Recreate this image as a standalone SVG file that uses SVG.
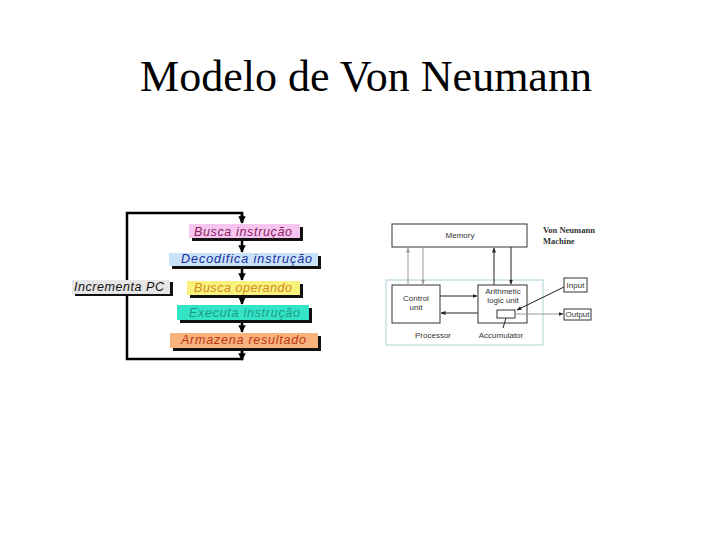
<svg xmlns="http://www.w3.org/2000/svg" width="720" height="540" viewBox="0 0 720 540">
<style>
.title{font-family:"Liberation Serif","Times New Roman",serif;font-size:44px;fill:#000}
.step{font-family:"Liberation Sans",Arial,sans-serif;font-style:italic;font-size:12.5px}
.shadow{fill:#111}
.loop{fill:none;stroke:#000;stroke-width:2.5}
.sm{font-family:"Liberation Sans",Arial,sans-serif;font-size:8px;fill:#333;text-anchor:middle}
.vn{font-family:"Liberation Serif","Times New Roman",serif;font-size:8.5px;font-weight:bold;fill:#333}
.box{fill:#fff;stroke:#333;stroke-width:1}
.dk{stroke:#222;stroke-width:1;fill:none}
.gr{stroke:#999;stroke-width:1;fill:none}
</style>
<defs>
<marker id="ah" viewBox="0 0 10 10" refX="9" refY="5" markerWidth="3" markerHeight="3" orient="auto" markerUnits="strokeWidth">
<path d="M0,0 L10,5 L0,10 z" fill="#000"/>
</marker>
<marker id="as" viewBox="0 0 10 10" refX="9" refY="5" markerWidth="5" markerHeight="5" orient="auto" markerUnits="strokeWidth">
<path d="M0,1 L10,5 L0,9 z" fill="#222"/>
</marker>
<marker id="ag" viewBox="0 0 10 10" refX="9" refY="5" markerWidth="5" markerHeight="5" orient="auto" markerUnits="strokeWidth">
<path d="M0,1 L10,5 L0,9 z" fill="#999"/>
</marker>
</defs>
<rect width="720" height="540" fill="#fff"/>
<text class="title" x="366" y="91" text-anchor="middle">Modelo de Von Neumann</text>

<!-- Left flow connectors -->
<g id="flow-connectors">
<path class="loop" d="M242,348 L242,359 L127,359 L127,213 L242,213 L242,222"/>
<path class="loop" d="M242,213 L242,223" marker-end="url(#ah)"/>
<path class="loop" d="M242,238 L242,252" marker-end="url(#ah)"/>
<path class="loop" d="M242,266 L242,280" marker-end="url(#ah)"/>
<path class="loop" d="M242,295 L242,304" marker-end="url(#ah)"/>
<path class="loop" d="M242,320 L242,332" marker-end="url(#ah)"/>
<path class="loop" d="M242,348 L242,360" marker-end="url(#ah)"/>
</g>

<g id="busca-instrucao">
<rect class="shadow" x="192" y="227" width="111" height="14"/>
<rect x="189" y="224" width="111" height="14" fill="#f6c6f0"/>
<text class="step" x="194" y="236" textLength="98" fill="#8a1c5c">Busca instrução</text>
</g>
<g id="decodifica-instrucao">
<rect class="shadow" x="172" y="256" width="149" height="13"/>
<rect x="169" y="253" width="149" height="13" fill="#c8e2f8"/>
<text class="step" x="181" y="263" textLength="131" fill="#1a2a9c">Decodifica instrução</text>
</g>
<g id="incrementa-pc">
<rect class="shadow" x="75" y="282" width="98" height="14"/>
<rect x="72" y="280" width="98" height="14" fill="#e6e6e6"/>
<text class="step" x="74" y="291" textLength="90" fill="#111">Incrementa PC</text>
</g>
<g id="busca-operando">
<rect class="shadow" x="190" y="284" width="113" height="14"/>
<rect x="187" y="281" width="113" height="14" fill="#f8f27c"/>
<text class="step" x="194" y="292" textLength="98" fill="#d08a20">Busca operando</text>
</g>
<g id="executa-instrucao">
<rect class="shadow" x="180" y="308" width="132" height="15"/>
<rect x="177" y="305" width="132" height="15" fill="#34e4c6"/>
<text class="step" x="189" y="317" textLength="111" fill="#1c9c88">Executa instrução</text>
</g>
<g id="armazena-resultado">
<rect class="shadow" x="173" y="336" width="148" height="15"/>
<rect x="170" y="333" width="148" height="15" fill="#f8b27c"/>
<text class="step" x="181" y="344" textLength="125" fill="#c03414">Armazena resultado</text>
</g>

<!-- Right: Von Neumann machine -->
<g id="processor">
<rect x="386" y="280" width="157" height="65" fill="none" stroke="#a8d2d2" stroke-width="1"/>
<text class="sm" x="433" y="338">Processor</text>
</g>
<g id="memory">
<rect class="box" x="392" y="224" width="135" height="23"/>
<text class="sm" x="460" y="238" font-size="7">Memory</text>
</g>
<text class="vn" x="543" y="233">Von Neumann</text>
<text class="vn" x="543" y="244">Machine</text>
<g id="control-unit">
<rect class="box" x="392" y="285" width="48" height="38"/>
<text class="sm" x="416" y="301">Control</text>
<text class="sm" x="416" y="310" fill="#777">unit</text>
</g>
<g id="alu">
<rect class="box" x="478" y="285" width="49" height="38"/>
<text class="sm" x="503" y="294">Arithmetic</text>
<text class="sm" x="503" y="303" fill="#666">logic unit</text>
</g>
<g id="accumulator">
<rect class="box" x="497" y="310" width="18" height="8"/>
<text class="sm" x="501" y="338">Accumulator</text>
</g>
<g id="input">
<rect class="box" x="564" y="278" width="23" height="14"/>
<text class="sm" x="575.5" y="288">Input</text>
</g>
<g id="output">
<rect class="box" x="564" y="309" width="27" height="11"/>
<text class="sm" x="577.5" y="317">Output</text>
</g>
<g id="vn-connectors">
<line class="gr" x1="408" y1="285" x2="408" y2="248" marker-end="url(#ag)"/>
<line class="gr" x1="423" y1="247" x2="423" y2="284" marker-end="url(#ag)"/>
<line class="dk" x1="494" y1="285" x2="494" y2="248" marker-end="url(#as)"/>
<line class="dk" x1="511" y1="247" x2="511" y2="284" marker-end="url(#as)"/>
<line class="dk" x1="440" y1="296" x2="477" y2="296" marker-end="url(#as)"/>
<line class="dk" x1="478" y1="313" x2="441" y2="313" marker-end="url(#as)"/>
<line class="dk" x1="564" y1="287" x2="517" y2="310" marker-end="url(#as)"/>
<line class="gr" x1="515" y1="314" x2="563" y2="314" stroke="#777" marker-end="url(#as)"/>
<line class="dk" x1="503" y1="328" x2="506" y2="318"/>
</g>
</svg>
